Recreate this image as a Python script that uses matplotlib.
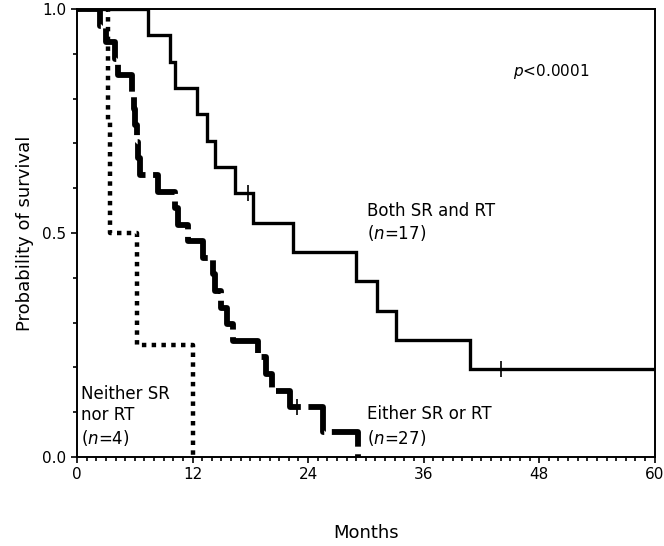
import numpy as np
import matplotlib
matplotlib.use("Agg")
import matplotlib.pyplot as plt
from matplotlib.ticker import MultipleLocator

# survival times in months (1 = death, 0 = censored)
both_times = [7.4, 9.7, 10.2, 12.5, 13.5, 14.3, 16.4, 17.8, 18.3, 22.4,
              29.0, 31.2, 33.1, 40.8, 44.0, 60.0, 60.0]
both_events = [1, 1, 1, 1, 1, 1, 1, 0, 1, 1, 1, 1, 1, 1, 0, 0, 0]

either_times = [2.4, 3.0, 3.9, 4.3, 5.7, 5.9, 6.0, 6.2, 6.3, 6.5, 8.4,
                10.2, 10.5, 11.5, 13.1, 14.1, 14.3, 15.0, 15.6, 16.2,
                18.8, 19.6, 20.2, 22.1, 22.8, 25.5, 29.2]
either_events = [1] * 24 + [0, 1, 1]

neither_times = [3.2, 3.4, 6.2, 12.0]
neither_events = [1, 1, 1, 1]


def km(times, events):
    t = np.array(times, float)
    e = np.array(events)
    order = np.argsort(t, kind="stable")
    t, e = t[order], e[order]
    xs, ys = [0.0], [1.0]
    cens_x, cens_y = [], []
    s = 1.0
    n = len(t)
    for ti, ei in zip(t, e):
        if ei == 1:
            s = s * (n - 1) / n
            xs.append(ti)
            ys.append(s)
        else:
            cens_x.append(ti)
            cens_y.append(s)
        n -= 1
    if xs[-1] < t.max():
        xs.append(t.max())
        ys.append(s)
    return xs, ys, cens_x, cens_y


fig = plt.figure(figsize=(6.64, 5.46), dpi=100)
ax = fig.add_axes([0.116, 0.163, 0.870, 0.8205])

# Both SR and RT
x, y, cx, cy = km(both_times, both_events)
ax.step(x, y, where="post", color="black", lw=2.4, solid_joinstyle="miter")
cx = [c for c in cx if c < 60]
cy = cy[:len(cx)]
ax.plot(cx, cy, ls="none", marker="|", ms=12, mew=1.2, color="black")

# Either SR or RT
x, y, cx, cy = km(either_times, either_events)
ax.step(x, y, where="post", color="black", lw=4.2, dashes=(7, 1.3))
ax.plot(cx, cy, ls="none", marker="|", ms=12, mew=1.2, color="black")

# Neither
x, y, cx, cy = km(neither_times, neither_events)
ax.step(x, y, where="post", color="black", lw=3.2, dashes=(1, 1.2))

ax.set_xlim(0, 60)
ax.set_ylim(0, 1.0)
ax.xaxis.set_major_locator(MultipleLocator(12))
ax.xaxis.set_minor_locator(MultipleLocator(1))
ax.yaxis.set_major_locator(MultipleLocator(0.5))
ax.yaxis.set_minor_locator(MultipleLocator(0.1))
ax.yaxis.set_major_formatter(matplotlib.ticker.FormatStrFormatter("%.1f"))
ax.tick_params(which="both", direction="out", width=1.2, labelsize=11)
ax.tick_params(which="major", length=4)
ax.tick_params(which="minor", length=3)
for sp in ax.spines.values():
    sp.set_linewidth(1.4)

ax.set_xlabel("Months", fontsize=13, labelpad=30)
ax.set_ylabel("Probability of survival", fontsize=13, labelpad=6)

ax.text(45.3, 0.85, r"$\it{p}$<0.0001", fontsize=11)
ax.text(30.1, 0.487, "Both SR and RT\n($\\it{n}$=17)", fontsize=12, linespacing=1.2)
ax.text(30.1, 0.029, "Either SR or RT\n($\\it{n}$=27)", fontsize=12, linespacing=1.3)
ax.text(0.4, 0.029, "Neither SR\nnor RT\n($\\it{n}$=4)", fontsize=12, linespacing=1.25)

fig.savefig("out.png", dpi=100)
